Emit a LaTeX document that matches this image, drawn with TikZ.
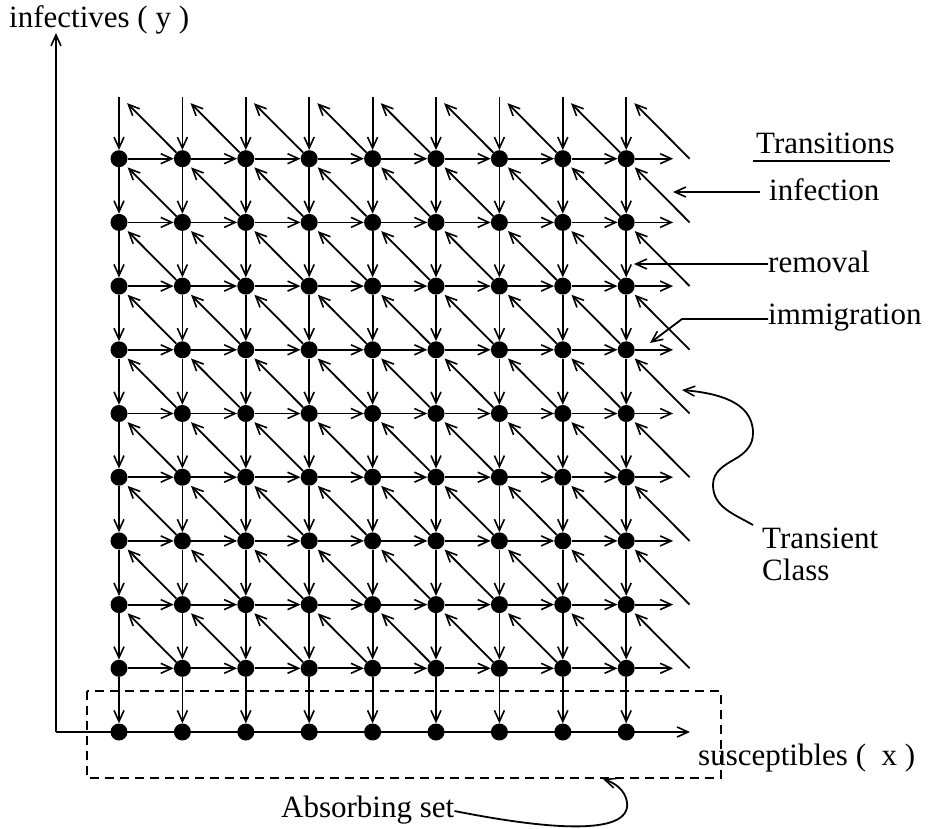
\documentclass[tikz,border=0pt]{standalone}
\usepackage{fontspec}
\setmainfont{Liberation Serif}
\usetikzlibrary{arrows.meta}
\begin{document}
\begin{tikzpicture}[x=1pt,y=1pt,
  dot/.style={circle, fill=black, inner sep=0pt, minimum size=17pt},
  arr/.style={-{Straight Barb[length=11pt,width=10pt,line width=1.6pt]}, line width=1.8pt},
  diag/.style={arr, shorten >=3.5pt},
  lab/.style={font=\fontsize{31}{33}\selectfont, inner sep=0pt, anchor=base west},
  dashbox/.style={dash pattern=on 9pt off 6pt, line width=1.5pt}]
\useasboundingbox (0,0) rectangle (928,-828);
% dots
\foreach \i in {0,...,8}{
  \foreach \j in {0,...,9}{
    \node[dot] (d-\i-\j) at ({119+63.4*\i},{-732+63.7*\j}) {};
  }
  \coordinate (top-\i) at ({119+63.4*\i},-97);
  \coordinate (tt-\i) at ({119+63.4*\i},-95);
}
\foreach \j in {0,...,9}{
  \coordinate (r-\j) at (689.6,{-732+63.7*\j});
}
% vertical arrows
\foreach \i in {0,...,8}{
  \draw[arr] (top-\i) -- (d-\i-9);
  \foreach \j in {1,...,9}{
    \pgfmathtruncatemacro{\jm}{\j-1}
    \draw[arr] (d-\i-\j) -- (d-\i-\jm);
  }
}
% horizontal arrows
\foreach \j in {1,...,9}{
  \foreach \i in {0,...,7}{
    \pgfmathtruncatemacro{\ip}{\i+1}
    \draw[arr] (d-\i-\j) -- (d-\ip-\j);
  }
  \draw[arr, shorten >=16.5pt] (d-8-\j) -- (r-\j);
}
% diagonal arrows
\foreach \i in {1,...,8}{
  \pgfmathtruncatemacro{\im}{\i-1}
  \foreach \j in {1,...,8}{
    \pgfmathtruncatemacro{\jp}{\j+1}
    \draw[diag] (d-\i-\j) -- (d-\im-\jp);
  }
  \draw[arr, shorten >=11.5pt] (d-\i-9) -- (tt-\im);
}
\foreach \j in {1,...,8}{
  \pgfmathtruncatemacro{\jp}{\j+1}
  \draw[diag] (r-\j) -- (d-8-\jp);
}
\draw[arr, shorten >=11.5pt] (r-9) -- (tt-8);
% axes
\coordinate (corner) at (56,-732);
\coordinate (yend) at (56,-33);
\coordinate (xend) at (690,-732);
\draw[arr] (corner) -- (yend);
\draw[arr] (corner) -- (xend);
% absorbing set box
\draw[dashbox] (87,-691) rectangle (721,-778);
\coordinate (boxhit) at (603,-779);
% labels
\node[lab] (ylab) at (9,-27) {infectives ( y )};
\node[lab] (xlab) at (698,-765) {susceptibles (\ \ x )};
\node[lab] (trans) at (756,-153) {Transitions};
\draw[line width=1.5pt] (753,-161) -- (890,-161);
\node[lab] (inf) at (769,-200) {infection};
\node[lab] (rem) at (768,-272) {removal};
\node[lab] (imm) at (768,-324) {immigration};
\node[lab] (tra) at (762,-548) {Transient};
\node[lab] (cla) at (762,-580) {Class};
\node[lab] (abs) at (281,-817) {Absorbing set};
\coordinate (infTip) at (673,-192);
\coordinate (remTip) at (634,-264);
\coordinate (immBend) at (682,-319);
\coordinate (immTip) at (650,-343);
\coordinate (traTip) at (682,-390);
\draw[arr] ([xshift=-9pt]inf.west |- 0,-192) -- (infTip);
\draw[arr] (rem.west |- 0,-264) -- (remTip);
\draw[arr] (imm.west |- 0,-319) -- (immBend) -- (immTip);
\draw[arr] (753,-525) to[out=150,in=-90] (713,-485) to[out=90,in=-150] (735,-459)
  to[out=30,in=-90] (753,-433) to[out=90,in=-5] (traTip);
\draw[arr] (abs.east |- 0,-811) .. controls (540,-828) and (632,-838) .. (627,-802)
  .. controls (625,-790) and (615,-783) .. (boxhit);
\end{tikzpicture}
\end{document}
